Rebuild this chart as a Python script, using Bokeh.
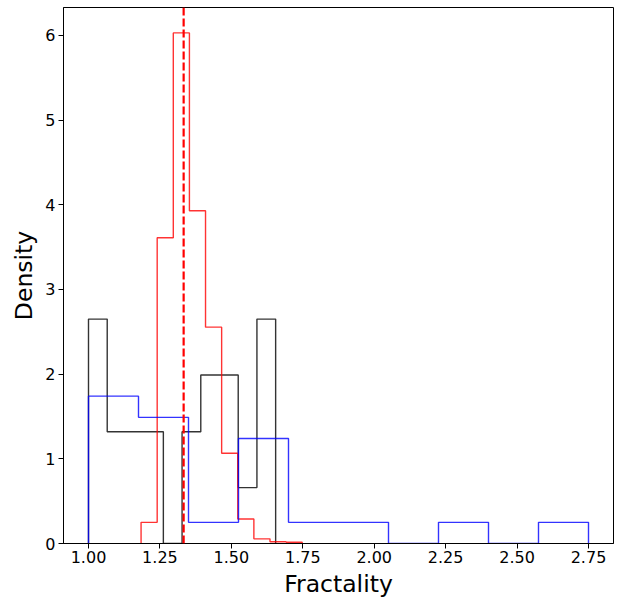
import numpy as np
from bokeh.plotting import figure
from bokeh.models import Range1d, FixedTicker, NumeralTickFormatter, Span
from bokeh.embed import file_html
from bokeh.resources import INLINE

# Histogram data (density)
black_range = [1.0, 1.655]
black_density = [2.65, 1.32, 1.32, 1.32, 0.0, 1.32, 1.99, 1.99, 0.66, 2.65]

red_range = [1.184, 1.748]
red_density = [0.25, 3.61, 6.03, 3.93, 2.555, 1.065, 0.29, 0.055, 0.02, 0.015]

blue_range = [1.0, 2.75]
blue_density = [1.74, 1.49, 0.25, 1.24, 0.25, 0.25, 0.0, 0.25, 0.0, 0.25]

ref_line = 1.333

x_ticks = [1.0, 1.25, 1.5, 1.75, 2.0, 2.25, 2.5, 2.75]
y_ticks = [0, 1, 2, 3, 4, 5, 6]


def step_outline(rng, dens):
    edges = np.linspace(rng[0], rng[1], len(dens) + 1)
    xs = [edges[0]]
    ys = [0.0]
    for i, h in enumerate(dens):
        xs += [edges[i], edges[i + 1]]
        ys += [h, h]
    xs.append(edges[-1])
    ys.append(0.0)
    return xs, ys


p = figure(width=628, height=600, output_backend="svg", toolbar_location=None,
           x_range=Range1d(0.9125, 2.8375), y_range=Range1d(0, 6.33),
           min_border_left=63, min_border_right=15, min_border_top=7,
           min_border_bottom=56)

p.background_fill_color = "white"
p.border_fill_color = "white"
p.outline_line_color = "black"
p.outline_line_width = 1
p.xgrid.visible = False
p.ygrid.visible = False

for rng, dens, col in [(black_range, black_density, "black"),
                       (red_range, red_density, "red"),
                       (blue_range, blue_density, "blue")]:
    xs, ys = step_outline(rng, dens)
    p.line(xs, ys, line_color=col, line_width=1.4, line_alpha=0.8)

p.add_layout(Span(location=ref_line, dimension="height", line_color="red",
                  line_width=2.2, line_dash="8 3"))

p.xaxis.ticker = FixedTicker(ticks=x_ticks)
p.yaxis.ticker = FixedTicker(ticks=y_ticks)
p.xaxis.formatter = NumeralTickFormatter(format="0.00")
p.yaxis.formatter = NumeralTickFormatter(format="0")

for ax in (p.xaxis, p.yaxis):
    ax.axis_line_color = "black"
    ax.major_tick_line_color = "black"
    ax.major_tick_in = 0
    ax.major_tick_out = 5
    ax.minor_tick_line_color = None
    ax.major_label_text_font = "DejaVu Sans"
    ax.major_label_text_font_size = "16px"
    ax.major_label_text_color = "black"
    ax.axis_label_text_font = "DejaVu Sans"
    ax.axis_label_text_font_size = "23.5px"
    ax.axis_label_text_font_style = "normal"
    ax.axis_label_text_color = "black"

p.xaxis.axis_label = "Fractality"
p.yaxis.axis_label = "Density"
p.xaxis.major_label_standoff = 2
p.xaxis.axis_label_standoff = 4
p.yaxis.major_label_standoff = 3
p.yaxis.axis_label_standoff = 4

open("out.html", "w").write(file_html(p, INLINE))
